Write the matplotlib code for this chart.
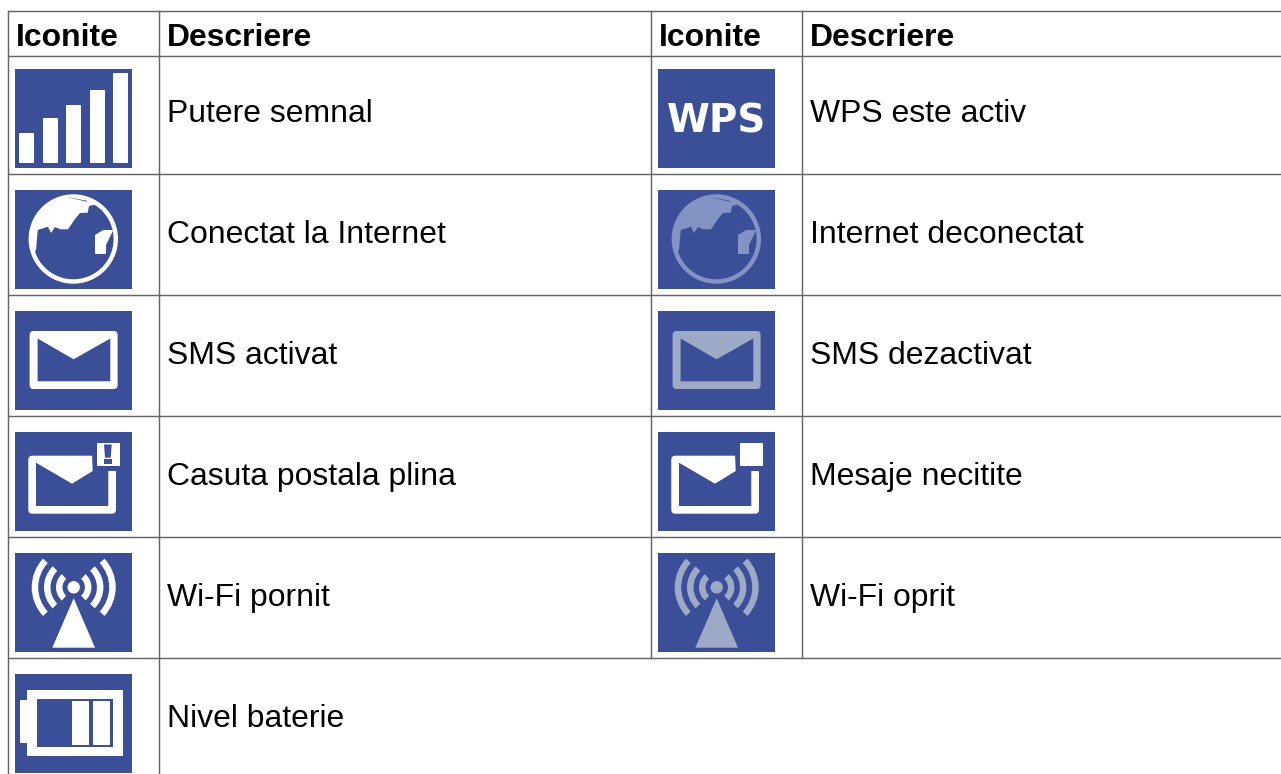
import matplotlib
matplotlib.use('Agg')
import matplotlib.pyplot as plt
import numpy as np
from matplotlib.patches import Rectangle, Polygon, Circle, Wedge, FancyBboxPatch

plt.rcParams['font.family'] = ['Liberation Sans', 'DejaVu Sans']

# table text
header_icon = 'Iconite'
header_desc = 'Descriere'
left_labels = ['Putere semnal', 'Conectat la Internet', 'SMS activat',
               'Casuta postala plina', 'Wi-Fi pornit', 'Nivel baterie']
right_labels = ['WPS este activ', 'Internet deconectat', 'SMS dezactivat',
                'Mesaje necitite', 'Wi-Fi oprit']
signal_heights = [30, 45, 58, 73, 90]

BLUE = '#3b4f99'
WHITE = '#ffffff'
GLOBE_DIM = '#8393c4'
DIM = '#9daac6'
LINE = '#666666'
TEXT_PT = 22.95

fig = plt.figure(figsize=(12.81, 7.74), dpi=100)
ax = fig.add_axes([0, 0, 1, 1])
ax.set_xlim(0, 1281)
ax.set_ylim(774, 0)
ax.axis('off')

# grid lines
h_lines = [11, 56, 174, 295, 416, 537, 658]
for y in h_lines:
    ax.plot([8, 1281], [y, y], color=LINE, lw=1.05, solid_capstyle='butt')
ax.plot([8, 8], [11, 774], color=LINE, lw=1.05)
ax.plot([159, 159], [11, 774], color=LINE, lw=1.05)
ax.plot([651, 651], [11, 658], color=LINE, lw=1.05)
ax.plot([802, 802], [11, 658], color=LINE, lw=1.05)


def poly(x0, y0, pts, color):
    ax.add_patch(Polygon([(x0 + a, y0 + b) for a, b in pts], closed=True, fc=color, ec='none'))


def rect(x0, y0, a, b, w, h, color):
    ax.add_patch(Rectangle((x0 + a, y0 + b), w, h, fc=color, ec='none'))


def icon_bg(x0, y0):
    rect(x0, y0, 0, 0, 117, 99, BLUE)


def icon_signal(x0, y0):
    icon_bg(x0, y0)
    lefts = [4, 28, 51, 75, 98]
    for a, h in zip(lefts, signal_heights):
        rect(x0, y0, a, 94 - h, 15, h, WHITE)


def icon_wps(x0, y0):
    icon_bg(x0, y0)
    ax.text(x0 + 59, y0 + 63.3, 'WPS', color=WHITE, fontsize=28, fontweight='bold',
            family='DejaVu Sans', ha='center', va='baseline')


def icon_globe(x0, y0, color):
    icon_bg(x0, y0)
    cx, cy = 58.3, 49
    ax.add_patch(Circle((x0 + cx, y0 + cy), 44.7, fc=color, ec='none'))
    ax.add_patch(Circle((x0 + cx, y0 + cy), 40.3, fc=BLUE, ec='none'))
    # land mass: coast line and then the arc back over the top
    coast = [(21, 60), (22.7, 40), (33, 36.7), (36, 43), (40, 37), (45, 39.3),
             (53, 39.3), (60, 29), (65, 23), (72.7, 22.7), (74, 16), (80, 14.7)]
    t = np.radians(np.linspace(-48, -200, 40))
    arc = [(cx + 42 * np.cos(v), cy + 42 * np.sin(v)) for v in t]
    poly(x0, y0, coast + arc, color)
    poly(x0, y0, [(50, 6.7), (72, 10.8), (72, 11.7), (60, 9)], BLUE)
    poly(x0, y0, [(80, 45), (88.3, 40), (98.3, 40), (91, 55), (91, 64), (80, 64)], color)


def round_box(x0, y0, a, b, w, h, color):
    ax.add_patch(FancyBboxPatch((x0 + a, y0 + b), w, h, boxstyle='round,pad=0,rounding_size=4',
                                fc=color, ec='none'))


def icon_sms(x0, y0, color):
    icon_bg(x0, y0)
    round_box(x0, y0, 14.6, 20, 88, 58, color)
    poly(x0, y0, [(22.6, 27.5), (58.6, 48.3), (95.3, 27.5), (95.3, 70.3), (22.6, 70.3)], BLUE)


def icon_mail_badge(x0, y0, mark):
    icon_bg(x0, y0)
    round_box(x0, y0, 13.3, 23.7, 87.7, 58, WHITE)
    poly(x0, y0, [(21, 30.7), (57, 51.7), (77.7, 39), (77, 22), (103, 22), (103, 39),
                  (93.3, 39), (93.3, 74), (21, 74)], BLUE)
    rect(x0, y0, 82, 11, 22.7, 22.7, WHITE)
    if mark:
        poly(x0, y0, [(89, 12.5), (96.7, 12.5), (95.7, 25.7), (90, 25.7)], BLUE)
        rect(x0, y0, 89, 27.3, 7.7, 5, BLUE)


def icon_wifi(x0, y0, color):
    icon_bg(x0, y0)
    cx, cy = 58.7, 34.3
    ax.add_patch(Circle((x0 + cx, y0 + cy), 6.2, fc=color, ec='none'))
    for r, half in [(42, 43), (29.7, 45), (17.7, 48)]:
        ax.add_patch(Wedge((x0 + cx, y0 + cy), r, -half, half, width=6.5, fc=color, ec='none'))
        ax.add_patch(Wedge((x0 + cx, y0 + cy), r, 180 - half, 180 + half, width=6.5, fc=color, ec='none'))
    poly(x0, y0, [(58.7, 45.3), (80, 94.7), (37.3, 94.7)], color)


def icon_battery(x0, y0):
    icon_bg(x0, y0)
    rect(x0, y0, 12.3, 16, 95.4, 66, WHITE)
    rect(x0, y0, 5, 26.3, 7.5, 42.4, WHITE)
    rect(x0, y0, 22, 25.3, 76.3, 47.4, BLUE)
    rect(x0, y0, 57, 27, 17, 43.7, WHITE)
    rect(x0, y0, 78, 27, 17, 43.7, WHITE)


# header row
for x in [16, 659]:
    ax.text(x, 46, header_icon, fontsize=TEXT_PT, fontweight='bold', color='black', va='baseline')
for x in [167, 810]:
    ax.text(x, 46, header_desc, fontsize=TEXT_PT, fontweight='bold', color='black', va='baseline')

# row labels
baselines = [122, 243, 364, 485, 606, 727]
for y, s in zip(baselines, left_labels):
    ax.text(167, y, s, fontsize=TEXT_PT, color='black', va='baseline')
for y, s in zip(baselines, right_labels):
    ax.text(810, y, s, fontsize=TEXT_PT, color='black', va='baseline')

# icons
tops = [69, 190, 311, 432, 553, 674]
icon_signal(15, tops[0])
icon_globe(15, tops[1], WHITE)
icon_sms(15, tops[2], WHITE)
icon_mail_badge(15, tops[3], True)
icon_wifi(15, tops[4], WHITE)
icon_battery(15, tops[5])

icon_wps(658, tops[0])
icon_globe(658, tops[1], GLOBE_DIM)
icon_sms(658, tops[2], DIM)
icon_mail_badge(658, tops[3], False)
icon_wifi(658, tops[4], DIM)

plt.savefig('out.png', dpi=100)
